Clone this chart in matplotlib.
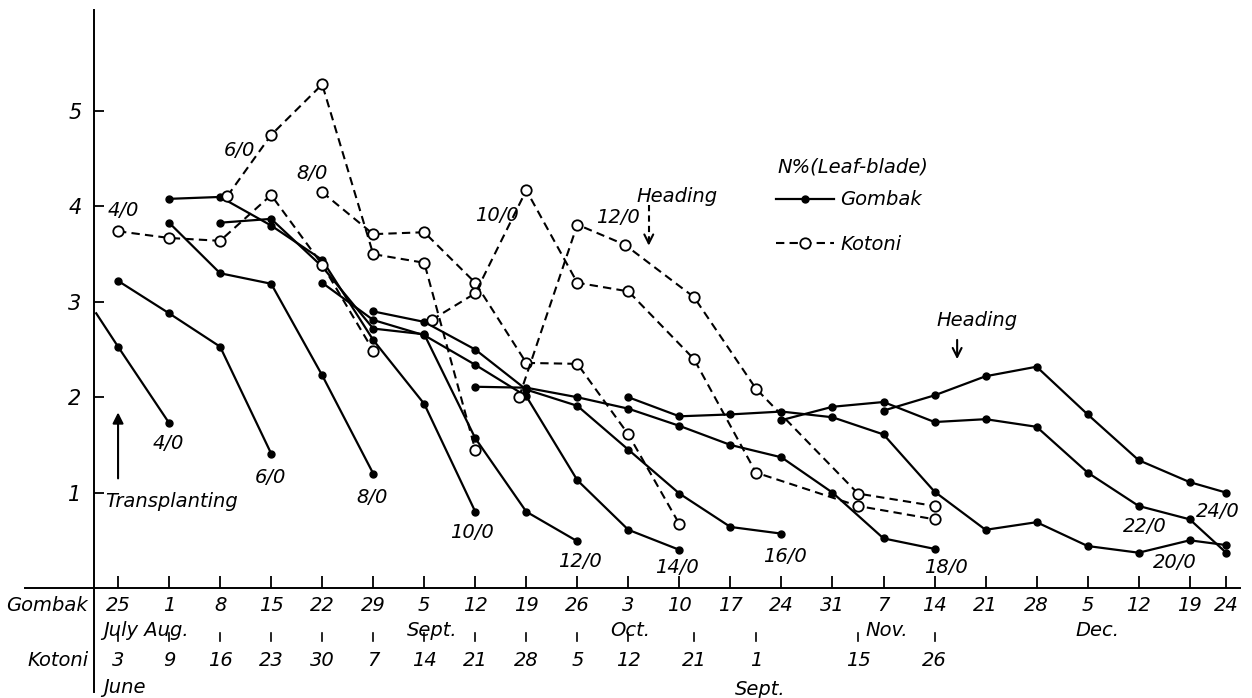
import matplotlib
matplotlib.use("Agg")
import matplotlib.pyplot as plt
from matplotlib.lines import Line2D

plt.rcParams['font.family'] = ['DejaVu Sans']
plt.rcParams['font.style'] = 'italic'

# x values are days after 25 July (Gombak calendar)
gombak_days = [0, 7, 14, 21, 28, 35, 42, 49, 56, 63, 70, 77, 84, 91, 98,
               105, 112, 119, 126, 133, 140, 147, 152]
gombak_labels = ['25', '1', '8', '15', '22', '29', '5', '12', '19', '26', '3',
                 '10', '17', '24', '31', '7', '14', '21', '28', '5', '12', '19', '24']
kotoni_days = [0, 7, 14, 21, 28, 35, 42, 49, 56, 63, 70, 79, 87.5, 101.5, 112]
kotoni_labels = ['3', '9', '16', '23', '30', '7', '14', '21', '28', '5', '12',
                 '21', '1', '15', '26']

# Gombak (solid, filled dots)
gombak_4 = [(-3, 2.88), (0, 2.53), (7, 1.73)]
gombak_6 = [(0, 3.22), (7, 2.88), (14, 2.53), (21, 1.41)]
gombak_8 = [(7, 3.83), (14, 3.30), (21, 3.19), (28, 2.23), (35, 1.20)]
gombak_10 = [(7, 4.08), (14, 4.10), (21, 3.80), (28, 3.44), (35, 2.60), (42, 1.93), (49, 0.80)]
gombak_12 = [(14, 3.83), (21, 3.87), (28, 3.37), (35, 2.72), (42, 2.66), (49, 1.57),
             (56, 0.80), (63, 0.49)]
gombak_14 = [(28, 3.20), (35, 2.81), (42, 2.65), (49, 2.34), (56, 2.01), (63, 1.13),
             (70, 0.61), (77, 0.40)]
gombak_16 = [(35, 2.90), (42, 2.79), (49, 2.50), (56, 2.08), (63, 1.91), (70, 1.45),
             (77, 0.99), (84, 0.64), (91, 0.57)]
gombak_18 = [(49, 2.11), (56, 2.10), (63, 2.00), (70, 1.88), (77, 1.70), (84, 1.50),
             (91, 1.37), (98, 1.00), (105, 0.52), (112, 0.41)]
gombak_20 = [(70, 2.00), (77, 1.80), (84, 1.82), (91, 1.85), (98, 1.79), (105, 1.61),
             (112, 1.01), (119, 0.61), (126, 0.69), (133, 0.44), (140, 0.37),
             (147, 0.50), (152, 0.45)]
gombak_22 = [(91, 1.76), (98, 1.90), (105, 1.95), (112, 1.74), (119, 1.77), (126, 1.69),
             (133, 1.21), (140, 0.86), (147, 0.72), (152, 0.37)]
gombak_24 = [(105, 1.86), (112, 2.02), (119, 2.22), (126, 2.32), (133, 1.82),
             (140, 1.34), (147, 1.11), (152, 1.00)]

# Kotoni (dashed, open circles)
kotoni_4 = [(0, 3.74), (7, 3.67), (14, 3.64), (21, 4.12), (28, 3.39), (35, 2.49)]
kotoni_6 = [(15, 4.11), (21, 4.75), (28, 5.28), (35, 3.50), (42, 3.41), (49, 1.45)]
kotoni_8 = [(28, 4.15), (35, 3.71), (42, 3.73), (49, 3.20), (56, 2.36), (63, 2.35),
            (70, 1.61), (77, 0.67)]
kotoni_10 = [(43, 2.81), (49, 3.09), (56, 4.17), (63, 3.20), (70, 3.11), (79, 2.40),
             (87.5, 1.21), (101.5, 0.86), (112, 0.72)]
kotoni_12 = [(55, 2.00), (63, 3.81), (69.5, 3.60), (79, 3.05), (87.5, 2.09),
             (101.5, 0.99), (112, 0.86)]

gombak_series = [gombak_4, gombak_6, gombak_8, gombak_10, gombak_12, gombak_14,
                 gombak_16, gombak_18, gombak_20, gombak_22, gombak_24]
kotoni_series = [kotoni_4, kotoni_6, kotoni_8, kotoni_10, kotoni_12]

# series label positions (day, N%)
gombak_tags = [('4/0', 6.9, 1.51), ('6/0', 20.9, 1.16), ('8/0', 34.8, 0.95),
               ('10/0', 48.6, 0.58), ('12/0', 63.4, 0.28), ('14/0', 76.7, 0.21),
               ('16/0', 91.5, 0.33), ('18/0', 113.6, 0.21), ('20/0', 145.0, 0.27),
               ('22/0', 140.9, 0.64), ('24/0', 150.9, 0.80)]
kotoni_tags = [('4/0', 0.7, 3.96), ('6/0', 16.7, 4.59), ('8/0', 26.6, 4.35),
               ('10/0', 52.0, 3.91), ('12/0', 68.6, 3.88)]

DASH = (0, (4, 2.5))
FS = 14

fig = plt.figure(figsize=(12.52, 6.98), dpi=100)
ax = fig.add_axes([94 / 1252, 110 / 698, 1146 / 1252, 578 / 698])
ax.set_xlim(-3.3, 153.9)
ax.set_ylim(0, 6.06)
for s in ax.spines.values():
    s.set_visible(False)

for i, ser in enumerate(gombak_series):
    xs = [p[0] for p in ser]
    ys = [p[1] for p in ser]
    every = list(range(1, len(xs))) if i == 0 else None
    ax.plot(xs, ys, color='black', lw=1.6, marker='o', ms=5, mfc='black',
            mec='black', markevery=every, zorder=3)

for ser in kotoni_series:
    xs = [p[0] for p in ser]
    ys = [p[1] for p in ser]
    ax.plot(xs, ys, color='black', lw=1.5, linestyle=DASH, marker='o', ms=7.5,
            mfc='white', mec='black', mew=1.3, zorder=4)

for txt, x, y in gombak_tags + kotoni_tags:
    ax.text(x, y, txt, fontsize=FS, ha='center', va='center', zorder=5)

# axis lines, extended into the date table
ax.plot([0, 0], [1, -0.18], transform=ax.transAxes, color='black', lw=1.4, clip_on=False)
ax.plot([-0.06, 1.0], [0, 0], transform=ax.transAxes, color='black', lw=1.4, clip_on=False)

ax.set_yticks([1, 2, 3, 4, 5])
ax.set_yticklabels(['1', '2', '3', '4', '5'], fontsize=15)
ax.tick_params(axis='y', direction='in', length=7, width=1.3, pad=9)
ax.set_xticks(gombak_days)
ax.set_xticklabels(gombak_labels, fontsize=FS)
ax.tick_params(axis='x', direction='in', length=9, width=1.3, pad=6)

tr = ax.get_xaxis_transform()
ax.text(-4.1, -0.031, 'Gombak', transform=tr, ha='right', va='center', fontsize=FS)
ax.text(-4.1, -0.125, 'Kotoni', transform=tr, ha='right', va='center', fontsize=FS)
month_row = [('July Aug.', -2.1), ('Sept.', 39.6), ('Oct.', 67.5), ('Nov.', 102.5),
             ('Dec.', 131.3)]
for txt, x in month_row:
    ax.text(x, -0.073, txt, transform=tr, ha='left', va='center', fontsize=FS)
for x, lab in zip(kotoni_days, kotoni_labels):
    ax.plot([x, x], [-0.077, -0.092], transform=tr, color='black', lw=1.2, clip_on=False)
    ax.text(x, -0.125, lab, transform=tr, ha='center', va='center', fontsize=FS)
ax.text(-2.1, -0.173, 'June', transform=tr, ha='left', va='center', fontsize=FS)
ax.text(84.6, -0.176, 'Sept.', transform=tr, ha='left', va='center', fontsize=FS)

# annotations
ax.annotate('', xy=(0, 1.87), xytext=(0, 1.12),
            arrowprops=dict(arrowstyle='-|>', color='black', lw=1.5, mutation_scale=16))
ax.text(-1.8, 0.91, 'Transplanting', ha='left', va='center', fontsize=FS)

ax.text(76.7, 4.10, 'Heading', ha='center', va='center', fontsize=FS)
ax.plot([72.8, 72.8], [4.02, 3.66], color='black', lw=1.5, linestyle=(0, (3, 2)))
ax.annotate('', xy=(72.8, 3.56), xytext=(72.8, 3.70),
            arrowprops=dict(arrowstyle='->', color='black', lw=1.5, mutation_scale=16))

ax.text(117.8, 2.80, 'Heading', ha='center', va='center', fontsize=FS)
ax.annotate('', xy=(115.1, 2.37), xytext=(115.1, 2.63),
            arrowprops=dict(arrowstyle='->', color='black', lw=1.5, mutation_scale=16))

# legend
ax.text(90.4, 4.41, 'N%(Leaf-blade)', ha='left', va='center', fontsize=FS)
handles = [Line2D([], [], color='black', lw=1.6, marker='o', ms=5),
           Line2D([], [], color='black', lw=1.5, linestyle=DASH, marker='o', ms=7.5,
                  mfc='white', mew=1.3)]
ax.legend(handles, ['Gombak', 'Kotoni'], loc='upper left',
          bbox_to_anchor=(0.595, 0.688), frameon=False, fontsize=FS,
          handlelength=3.0, handletextpad=0.3, labelspacing=1.3,
          borderpad=0, borderaxespad=0)

fig.savefig('out.png', dpi=100)
